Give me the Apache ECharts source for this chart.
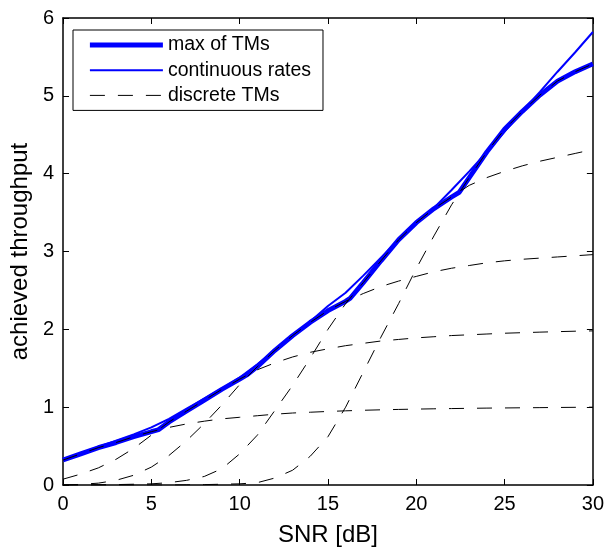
<!DOCTYPE html>
<html>
<head>
<meta charset="utf-8">
<script src="https://cdn.jsdelivr.net/npm/echarts@6/dist/echarts.min.js"></script>
<style>
html,body{margin:0;padding:0;background:#fff;}
#chart{width:607px;height:552px;}
</style>
</head>
<body>
<div id="chart"></div>
<script>
// SNR grid [dB]
const snr = [0,1,2,3,4,5,6,7,8,9,10,11,12,13,14,15,16,17,18,19,20,21,22,23,24,25,26,27,28,29,30];

// continuous rates (thin blue)
const continuousRates = [0.33,0.41,0.49,0.57,0.65,0.74,0.85,0.98,1.11,1.24,1.38,1.55,1.73,1.92,2.10,2.30,2.47,2.69,2.92,3.15,3.37,3.56,3.79,4.03,4.28,4.54,4.80,5.05,5.31,5.56,5.82];

// discrete TMs (dashed black)
const tm1 = [0.32,0.40,0.48,0.545,0.62,0.685,0.74,0.785,0.82,0.85,0.87,0.89,0.91,0.925,0.935,0.945,0.953,0.96,0.966,0.971,0.975,0.979,0.982,0.985,0.988,0.99,0.992,0.994,0.996,0.998,1.0];
const tm2 = [0.075,0.14,0.22,0.33,0.47,0.64,0.81,0.95,1.09,1.23,1.36,1.48,1.57,1.645,1.705,1.75,1.79,1.82,1.85,1.87,1.89,1.905,1.92,1.93,1.94,1.95,1.957,1.964,1.97,1.976,1.98];
const tm3 = [0.0,0.008,0.024,0.06,0.125,0.23,0.38,0.57,0.79,1.03,1.29,1.52,1.73,1.92,2.09,2.24,2.36,2.46,2.55,2.62,2.68,2.74,2.785,2.82,2.855,2.88,2.90,2.915,2.93,2.945,2.96];
const tm4 = [0.0,0.0,0.003,0.005,0.01,0.015,0.03,0.06,0.11,0.21,0.40,0.64,0.96,1.28,1.63,2.0,2.33,2.60,2.88,3.15,3.37,3.55,3.70,3.85,3.95,4.03,4.10,4.16,4.21,4.26,4.31];
const tm5 = [0,0,0,0,0,0,0,0.002,0.005,0.01,0.015,0.03,0.09,0.19,0.37,0.62,1.0,1.45,1.90,2.33,2.78,3.20,3.60,3.95,4.28,4.57,4.80,5.01,5.19,5.31,5.41];

// max of TMs (thick blue), including crossover points
const maxSnr = [0,1,2,3,4,5,5.4,6,7,8,9,10,10.45,11,12,13,14,15,16,16.26,17,18,19,20,21,22,22.43,23,24,25,26,27,28,29,30];
const maxVal = [0.32,0.40,0.48,0.545,0.62,0.685,0.71,0.81,0.95,1.09,1.23,1.36,1.42,1.52,1.73,1.92,2.09,2.24,2.36,2.40,2.60,2.88,3.15,3.37,3.55,3.70,3.76,3.95,4.28,4.57,4.80,5.01,5.19,5.31,5.41];

const xTicks = {min:0, max:30, interval:5};
const yTicks = {min:0, max:6, interval:1};
const legendNames = ['max of TMs','continuous rates','discrete TMs'];

const FONT = 'Liberation Sans, Arial, Helvetica, sans-serif';
const THICK = 4.8, THIN = 2, DASH = [15,13];
const chart = echarts.init(document.getElementById('chart'), null, {renderer:'canvas'});

const discrete = [tm1,tm2,tm3,tm4,tm5].map(arr => ({
  name: legendNames[2],
  type: 'line',
  symbol: 'none',
  data: snr.map((x,i)=>[x, arr[i]]),
  lineStyle: {color:'#000', width:1, type:DASH},
  itemStyle: {color:'#000'},
  z: 4
}));

const axisCommon = {
  axisLine: {show:true, onZero:false, lineStyle:{color:'#000', width:1.5}},
  axisTick: {show:true, inside:true, length:6, lineStyle:{color:'#000', width:1}},
  splitLine: {show:false}
};

chart.setOption({
  animation: false,
  backgroundColor: '#fff',
  grid: {left:62, right:12, top:18, bottom:59, containLabel:false},
  legend: {
    data: [
      {name: legendNames[0], lineStyle:{width:THICK, color:'#0000ff'}},
      {name: legendNames[1], lineStyle:{width:THIN, color:'#0000ff'}},
      {name: legendNames[2], lineStyle:{width:1, color:'#000', type:DASH}}
    ],
    orient: 'vertical',
    left: 73, top: 30,
    padding: [5, 12, 5, 14.5],
    itemWidth: 73, itemHeight: 14, itemGap: 5.2,
    itemStyle: {opacity: 0, borderWidth: 0},
    borderColor: '#000', borderWidth: 1,
    backgroundColor: '#fff',
    selectedMode: false,
    textStyle: {fontFamily: FONT, fontSize: 19.5, color:'#000', lineHeight: 20}
  },
  xAxis: [
    Object.assign({type:'value', position:'bottom', min:xTicks.min, max:xTicks.max, interval:xTicks.interval,
      name:'SNR [dB]', nameLocation:'middle', nameGap:38,
      nameTextStyle:{fontFamily:FONT, fontSize:24, color:'#000'},
      axisLabel:{show:true, margin:9, fontFamily:FONT, fontSize:20, color:'#000'}}, axisCommon),
    Object.assign({type:'value', position:'top', min:xTicks.min, max:xTicks.max, interval:xTicks.interval,
      axisLabel:{show:false}}, axisCommon)
  ],
  yAxis: [
    Object.assign({type:'value', position:'left', min:yTicks.min, max:yTicks.max, interval:yTicks.interval,
      name:'achieved throughput', nameLocation:'middle', nameGap:30,
      nameTextStyle:{fontFamily:FONT, fontSize:24, color:'#000'},
      axisLabel:{show:true, margin:9, fontFamily:FONT, fontSize:20, color:'#000'}}, axisCommon),
    Object.assign({type:'value', position:'right', min:yTicks.min, max:yTicks.max, interval:yTicks.interval,
      axisLabel:{show:false}}, axisCommon)
  ],
  series: [
    {
      name: legendNames[0], type:'line', symbol:'none',
      data: maxSnr.map((x,i)=>[x, maxVal[i]]),
      lineStyle:{color:'#0000ff', width:THICK}, itemStyle:{color:'#0000ff'}, z:2
    },
    {
      name: legendNames[1], type:'line', symbol:'none',
      data: snr.map((x,i)=>[x, continuousRates[i]]),
      lineStyle:{color:'#0000ff', width:THIN}, itemStyle:{color:'#0000ff'}, z:3
    }
  ].concat(discrete)
});
</script>
</body>
</html>
